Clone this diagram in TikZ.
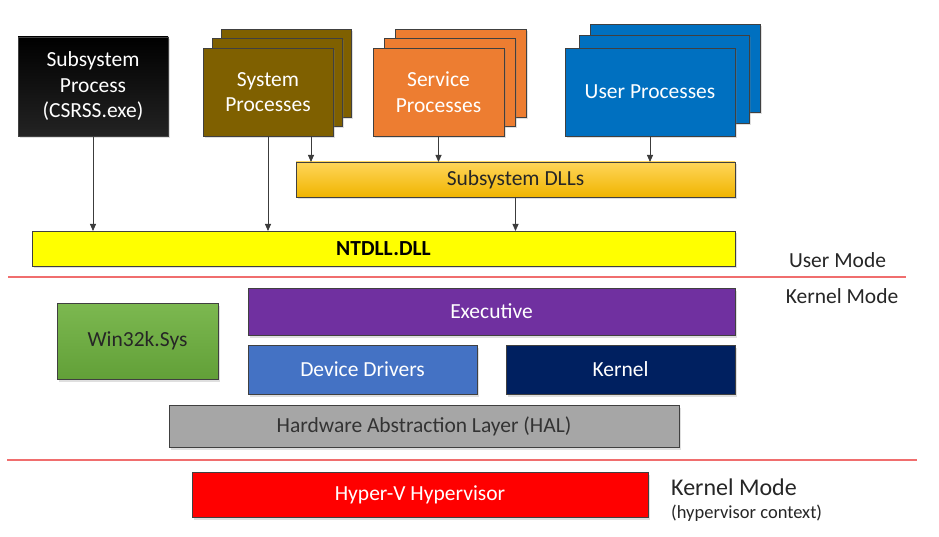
\documentclass[tikz,border=0pt]{standalone}
\usepackage{fontspec}
\setmainfont{Carlito}
\usetikzlibrary{arrows.meta,shadows,calc}
\definecolor{edgecol}{RGB}{64,64,64}
\definecolor{sysc}{RGB}{127,96,0}
\definecolor{svcc}{RGB}{237,125,49}
\definecolor{usrc}{RGB}{0,112,192}
\definecolor{dlltop}{RGB}{255,214,90}
\definecolor{dllbot}{RGB}{240,180,0}
\definecolor{ntc}{RGB}{255,255,0}
\definecolor{execc}{RGB}{112,48,160}
\definecolor{drvc}{RGB}{68,114,196}
\definecolor{kernc}{RGB}{0,32,96}
\definecolor{wintop}{RGB}{124,184,80}
\definecolor{winbot}{RGB}{98,160,56}
\definecolor{halc}{RGB}{166,166,166}
\definecolor{hypc}{RGB}{255,0,0}
\definecolor{sepc}{RGB}{240,110,110}
\definecolor{arrc}{RGB}{60,60,60}
\begin{document}
\begin{tikzpicture}[x=1pt,y=-1pt,
  box/.style={draw=edgecol, line width=0.8pt, inner sep=0pt, outer sep=0pt,
    align=center, font=\fontsize{21.5}{25.5}\selectfont, text=white,
    drop shadow={opacity=0.25, shadow xshift=1.5pt, shadow yshift=-2.5pt}},
  sz/.style 2 args={minimum width=#1pt, minimum height=#2pt},
  arr/.style={draw=arrc, line width=0.8pt, -{Triangle[length=7pt,width=6pt]}},
  sepline/.style={draw=sepc, line width=1.4pt},
  modelabel/.style={font=\fontsize{21.5}{25.5}\selectfont, text=black!85, inner sep=0pt}
]
\useasboundingbox[fill=white] (0,0) rectangle (939,537);

% user mode processes
\node[box, sz={150}{99}, top color=black, bottom color={rgb,255:red,35;green,35;blue,35}] (csrss) at (93,86.5) {Subsystem\\Process\\(CSRSS.exe)};

\node[box, sz={130}{88}, fill=sysc] (sys3) at (286,73) {};
\node[box, sz={130}{88}, fill=sysc] (sys2) at (277,82) {};
\node[box, sz={130}{88}, fill=sysc] (sys) at (268,92) {System\\Processes};

\node[box, sz={131}{88}, fill=svcc] (svc3) at (460.5,73) {};
\node[box, sz={131}{88}, fill=svcc] (svc2) at (449.5,82) {};
\node[box, sz={131}{88}, fill=svcc] (svc) at (438.5,92) {Service\\Processes};

\node[box, sz={170}{88}, fill=usrc] (usr3) at (675,68) {};
\node[box, sz={170}{88}, fill=usrc] (usr2) at (664,79) {};
\node[box, sz={170}{88}, fill=usrc] (usr) at (650,92) {User Processes};

\node[box, sz={439}{35}, top color=dlltop, bottom color=dllbot, text=black!85] (dlls) at (515.5,179.5) {Subsystem DLLs};
\node[box, sz={703}{35}, fill=ntc, text=black, font=\fontsize{21.5}{25.5}\selectfont\bfseries] (ntdll) at (383.5,248.5) {NTDLL.DLL};

% arrows
\draw[arr] (csrss.south) -- (csrss.south |- ntdll.north);
\draw[arr] (sys.south) -- (sys.south |- ntdll.north);
\coordinate (sysb) at ($(sys.south east)+(-22,0)$);
\draw[arr] (sysb) -- (sysb |- dlls.north);
\draw[arr] (svc.south) -- (svc.south |- dlls.north);
\draw[arr] (usr.south) -- (usr.south |- dlls.north);
\draw[arr] (dlls.south) -- (dlls.south |- ntdll.north);

% separators and mode labels
\coordinate (l1a) at (8,277);
\coordinate (l1b) at (906,277);
\draw[sepline] (l1a) -- (l1b);
\node[modelabel] (um) at (837.5,260) {User Mode};
\node[modelabel] (km) at (842,296) {Kernel Mode};

% kernel mode
\node[box, sz={487}{47}, fill=execc] (exec) at (491.5,311.5) {Executive};
\node[box, sz={161}{76}, top color=wintop, bottom color=winbot, text=black!85] (win) at (137.5,341) {Win32k.Sys};
\node[box, sz={229}{49}, fill=drvc] (drv) at (362.5,369.5) {Device Drivers};
\node[box, sz={229}{49}, fill=kernc] (kern) at (620.5,369.5) {Kernel};
\node[box, sz={510}{42}, fill=halc, text=black!80] (hal) at (424,426) {Hardware Abstraction Layer (HAL)};

\coordinate (l2a) at (7,460);
\coordinate (l2b) at (917,460);
\draw[sepline] (l2a) -- (l2b);

% hypervisor
\node[box, sz={456}{45}, fill=hypc] (hyp) at (420,494.5) {Hyper-V Hypervisor};
\node[modelabel, anchor=west, font=\fontsize{24}{28}\selectfont] (km2) at (671,487) {Kernel Mode};
\node[modelabel, anchor=west, font=\fontsize{18.5}{22}\selectfont] (hctx) at (671,513) {(hypervisor context)};
\end{tikzpicture}
\end{document}
